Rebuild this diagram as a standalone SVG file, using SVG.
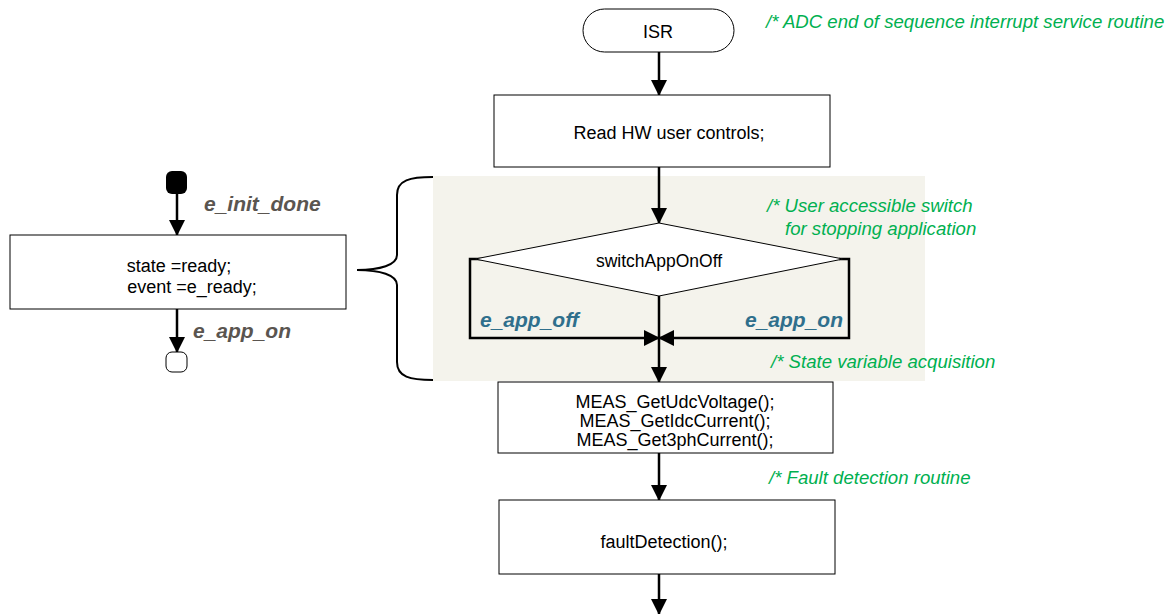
<svg xmlns="http://www.w3.org/2000/svg" width="1172" height="614" viewBox="0 0 1172 614">
<style>
.box{fill:#fff;stroke:#000;stroke-width:1}
.t{font-family:"Liberation Sans",Arial,sans-serif;font-size:18px;fill:#000;text-anchor:middle}
.c{font-family:"Liberation Sans",Arial,sans-serif;font-size:18.6px;font-style:italic;fill:#00b050}
.ev{font-family:"Liberation Sans",Arial,sans-serif;font-size:21px;font-style:italic;font-weight:bold;fill:#5a5550}
.br{font-family:"Liberation Sans",Arial,sans-serif;font-size:21px;font-style:italic;font-weight:bold;fill:#2f6f8c}
.ln{fill:none;stroke:#000;stroke-width:2.5}
</style>
<defs>
<marker id="a" viewBox="0 0 16 16" refX="15" refY="8" markerWidth="16" markerHeight="16" orient="auto" markerUnits="userSpaceOnUse">
<path d="M0,0 L16,8 L0,16 z" fill="#000"/>
</marker>
</defs>
<rect id="shade" x="433" y="176" width="492" height="205" fill="#f4f3ec"/>
<path id="brace" d="M433,177 C410,177 397,180 397,195 L397,255 C397,265 380,270 357,270 C380,270 397,275 397,285 L397,362 C397,377 410,380 433,380" fill="none" stroke="#000" stroke-width="2"/>

<g id="connectors">
<line class="ln" x1="659" y1="52" x2="659" y2="95" marker-end="url(#a)"/>
<line class="ln" x1="659" y1="167" x2="659" y2="223" marker-end="url(#a)"/>
<polyline fill="none" stroke="#000" stroke-width="2.5" points="482,259 470,259 470,338 659,338" marker-end="url(#a)"/>
<polyline fill="none" stroke="#000" stroke-width="2.5" points="839,259 849,259 849,338 659,338" marker-end="url(#a)"/>
<line class="ln" x1="659" y1="296" x2="659" y2="382" marker-end="url(#a)"/>
<line class="ln" x1="659" y1="453" x2="659" y2="500" marker-end="url(#a)"/>
<line class="ln" x1="659" y1="574" x2="659" y2="614" marker-end="url(#a)"/>
<line class="ln" x1="177" y1="194" x2="177" y2="235" marker-end="url(#a)"/>
<line class="ln" x1="177" y1="309" x2="177" y2="352" marker-end="url(#a)"/>
</g>

<g id="isr">
<rect class="box" x="583" y="9" width="151" height="43" rx="21.5"/>
<text class="t" x="658" y="38">ISR</text>
</g>
<g id="readhw">
<rect class="box" x="494" y="95" width="336" height="72"/>
<text class="t" x="669" y="139">Read HW user controls;</text>
</g>
<g id="switch">
<polygon class="box" points="659,223 843,259 659,296 475,259"/>
<text class="t" x="659" y="267" style="font-size:17.5px">switchAppOnOff</text>
</g>
<text class="br" x="480" y="327">e_app_off</text>
<text class="br" x="843" y="327" text-anchor="end">e_app_on</text>
<g id="meas">
<rect class="box" x="498" y="382" width="335" height="71"/>
<text class="t" x="675" y="408">MEAS_GetUdcVoltage();</text>
<text class="t" x="675" y="427">MEAS_GetIdcCurrent();</text>
<text class="t" x="675" y="446">MEAS_Get3phCurrent();</text>
</g>
<g id="fault">
<rect class="box" x="499" y="500" width="336" height="74"/>
<text class="t" x="664" y="548">faultDetection();</text>
</g>

<text class="c" x="766" y="28">/* ADC end of sequence interrupt service routine</text>
<text class="c" x="767" y="212">/* User accessible switch</text>
<text class="c" x="785" y="235">for stopping application</text>
<text class="c" x="771" y="368">/* State variable acquisition</text>
<text class="c" x="769" y="484">/* Fault detection routine</text>

<g id="initial">
<rect x="166" y="171" width="21" height="23" rx="6" fill="#000"/>
</g>
<text class="ev" x="204" y="211">e_init_done</text>
<g id="ready">
<rect class="box" x="10" y="235" width="336" height="74"/>
<text class="t" x="179" y="272">state =ready;</text>
<text class="t" x="192" y="293">event =e_ready;</text>
</g>
<text class="ev" x="193" y="338">e_app_on</text>
<g id="next">
<rect class="box" x="166" y="352" width="21" height="20" rx="6"/>
</g>
</svg>
